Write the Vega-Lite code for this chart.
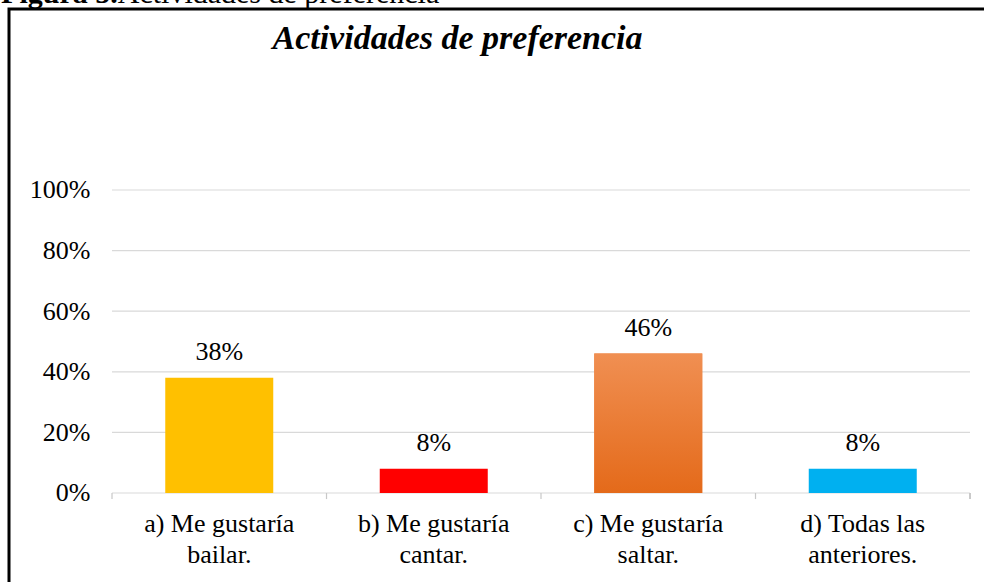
{
  "$schema": "https://vega.github.io/schema/vega-lite/v6.json",
  "autosize": {"type": "none"},
  "width": 995,
  "height": 595,
  "padding": {"left": 9, "top": 9, "right": -20, "bottom": -22},
  "background": "white",
  "config": {
    "view": {"stroke": "#000000", "strokeWidth": 3},
    "font": "Liberation Serif"
  },
  "datasets": {
    "respuestas": [
      {"categoria": "a)  Me gustaría bailar.", "valor": 0.38},
      {"categoria": "b) Me gustaría cantar.", "valor": 0.08},
      {"categoria": "c)  Me gustaría saltar.", "valor": 0.46},
      {"categoria": "d) Todas las anteriores.", "valor": 0.08}
    ],
    "grid": [
      {"nivel": 0}, {"nivel": 0.2}, {"nivel": 0.4}, {"nivel": 0.6}, {"nivel": 0.8}, {"nivel": 1.0}
    ]
  },
  "layer": [
    {
      "data": {"name": "grid"},
      "mark": {"type": "rule", "color": "#d9d9d9", "strokeWidth": 1.2},
      "encoding": {
        "x": {"datum": "a)  Me gustaría bailar.", "type": "nominal", "bandPosition": -0.493},
        "x2": {"datum": "d) Todas las anteriores.", "bandPosition": 1.493},
        "y": {"field": "nivel", "type": "quantitative"}
      }
    },
    {
      "data": {"name": "respuestas"},
      "mark": {"type": "rule", "color": "#c8c8c8", "strokeWidth": 1.2},
      "encoding": {
        "x": {"field": "categoria", "type": "nominal", "bandPosition": -0.493},
        "y": {"datum": 0, "type": "quantitative"},
        "y2": {"datum": -0.02}
      }
    },
    {
      "data": {"name": "respuestas"},
      "mark": {"type": "rule", "color": "#c8c8c8", "strokeWidth": 1.2},
      "encoding": {
        "x": {"datum": "d) Todas las anteriores.", "type": "nominal", "bandPosition": 1.493},
        "y": {"datum": 0, "type": "quantitative"},
        "y2": {"datum": -0.02}
      }
    },
    {
      "data": {"name": "respuestas"},
      "mark": {"type": "bar"},
      "encoding": {
        "x": {
          "field": "categoria",
          "type": "nominal",
          "sort": null,
          "scale": {"paddingInner": 0.4965, "paddingOuter": 0.5676, "align": 0.6417},
          "axis": {
            "title": null,
            "orient": "bottom",
            "offset": -111,
            "domain": false,
            "ticks": false,
            "tickSize": 0,
            "grid": false,
            "labelAngle": 0,
            "labelAlign": "center",
            "labelBaseline": "top",
            "labelFont": "Liberation Serif",
            "labelFontSize": 26,
            "labelColor": "#000000",
            "labelLineHeight": 31,
            "labelPadding": 17,
            "labelExpr": "[slice(datum.label, 0, lastindexof(datum.label, ' ')), slice(datum.label, lastindexof(datum.label, ' ') + 1)]"
          }
        },
        "y": {
          "field": "valor",
          "type": "quantitative",
          "scale": {"domain": [-0.36634, 1.59736], "nice": false, "zero": false},
          "axis": {
            "title": null,
            "orient": "left",
            "offset": -103,
            "values": [0, 0.2, 0.4, 0.6, 0.8, 1.0],
            "format": ".0%",
            "domain": false,
            "ticks": false,
            "tickSize": 0,
            "grid": false,
            "labelFont": "Liberation Serif",
            "labelFontSize": 26,
            "labelColor": "#000000",
            "labelPadding": 22
          }
        },
        "y2": {"datum": 0},
        "color": {
          "field": "categoria",
          "type": "nominal",
          "sort": null,
          "scale": {"range": ["#FFC000", "#FF0000", "#EE7F38", "#00B0F0"]},
          "legend": null
        }
      }
    },
    {
      "data": {"name": "respuestas"},
      "transform": [{"filter": "indexof(datum.categoria, 'c)') === 0"}],
      "mark": {
        "type": "bar",
        "color": {
          "gradient": "linear",
          "x1": 0, "y1": 0, "x2": 0, "y2": 1,
          "stops": [
            {"offset": 0, "color": "#F08F52"},
            {"offset": 1, "color": "#E46A1A"}
          ]
        }
      },
      "encoding": {
        "x": {"field": "categoria", "type": "nominal", "sort": null},
        "y": {"field": "valor", "type": "quantitative"},
        "y2": {"datum": 0}
      }
    },
    {
      "data": {"name": "respuestas"},
      "mark": {"type": "text", "font": "Liberation Serif", "fontSize": 26, "color": "#000000", "baseline": "alphabetic", "dy": -18},
      "encoding": {
        "x": {"field": "categoria", "type": "nominal", "sort": null},
        "y": {"field": "valor", "type": "quantitative"},
        "text": {"field": "valor", "type": "quantitative", "format": ".0%"}
      }
    },
    {
      "data": {"values": [{"texto": "Actividades de preferencia"}]},
      "mark": {"type": "text", "font": "Liberation Serif", "fontSize": 34, "fontWeight": "bold", "fontStyle": "italic", "color": "#000000", "baseline": "alphabetic", "align": "center"},
      "encoding": {
        "x": {"datum": "b) Me gustaría cantar.", "type": "nominal", "bandPosition": 0.72},
        "y": {"datum": 1.466, "type": "quantitative"},
        "text": {"field": "texto"}
      }
    },
    {
      "data": {"values": [{"texto": "Figura 5."}]},
      "mark": {"type": "text", "font": "Liberation Serif", "fontSize": 30, "fontWeight": "bold", "color": "#000000", "baseline": "alphabetic", "align": "left"},
      "encoding": {
        "x": {"datum": "a)  Me gustaría bailar.", "type": "nominal", "bandPosition": -1.52},
        "y": {"datum": 1.617, "type": "quantitative"},
        "text": {"field": "texto"}
      }
    },
    {
      "data": {"values": [{"texto": "Actividades de preferencia"}]},
      "mark": {"type": "text", "font": "Liberation Serif", "fontSize": 30, "color": "#000000", "baseline": "alphabetic", "align": "left"},
      "encoding": {
        "x": {"datum": "a)  Me gustaría bailar.", "type": "nominal", "bandPosition": -0.44},
        "y": {"datum": 1.617, "type": "quantitative"},
        "text": {"field": "texto"}
      }
    }
  ]
}
